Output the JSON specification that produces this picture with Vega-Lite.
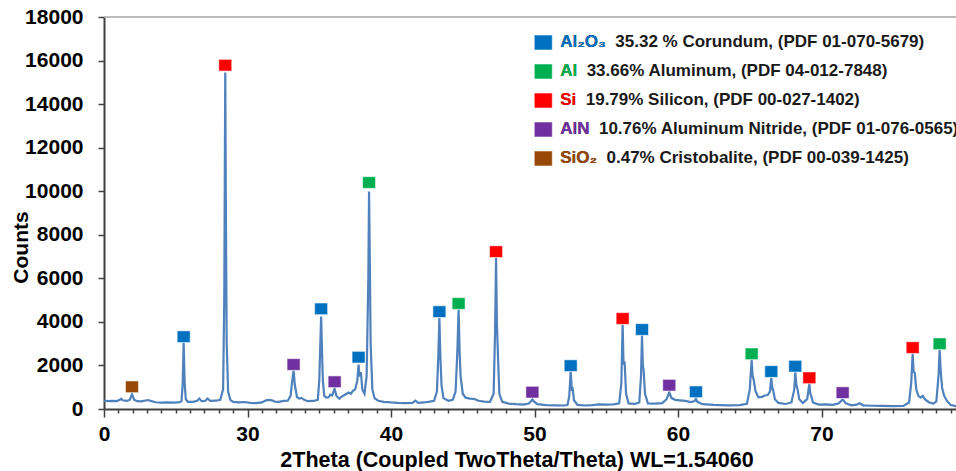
{
  "$schema": "https://vega.github.io/schema/vega-lite/v6.json",
  "width": 852,
  "height": 392,
  "autosize": {"type": "none"},
  "padding": {"left": 104, "top": 17, "right": 0, "bottom": 62},
  "background": "white",
  "config": {
    "font": "Liberation Sans",
    "view": {"stroke": null}
  },
  "datasets": {
    "xrd": [
      {"t":20.0,"c":380},{"t":20.3,"c":360},{"t":20.6,"c":375},{"t":20.9,"c":365},{"t":21.1,"c":420},{"t":21.2,"c":470},{"t":21.3,"c":400},{"t":21.6,"c":370},{"t":21.8,"c":430},{"t":21.95,"c":670},{"t":22.1,"c":430},{"t":22.3,"c":360},{"t":22.6,"c":350},{"t":22.9,"c":390},{"t":23.1,"c":410},{"t":23.3,"c":360},{"t":23.6,"c":310},{"t":24.0,"c":295},{"t":24.4,"c":300},{"t":24.8,"c":290},{"t":25.2,"c":300},{"t":25.4,"c":360},{"t":25.48,"c":1100},{"t":25.55,"c":3050},{"t":25.62,"c":1200},{"t":25.7,"c":450},{"t":25.85,"c":330},{"t":26.2,"c":330},{"t":26.5,"c":380},{"t":26.64,"c":480},{"t":26.8,"c":360},{"t":27.05,"c":370},{"t":27.22,"c":480},{"t":27.4,"c":370},{"t":27.8,"c":380},{"t":28.1,"c":420},{"t":28.3,"c":900},{"t":28.38,"c":5000},{"t":28.45,"c":15450},{"t":28.5,"c":8200},{"t":28.55,"c":3000},{"t":28.65,"c":800},{"t":28.8,"c":420},{"t":29.0,"c":330},{"t":29.4,"c":300},{"t":29.8,"c":320},{"t":30.2,"c":280},{"t":30.6,"c":270},{"t":31.0,"c":300},{"t":31.3,"c":400},{"t":31.5,"c":420},{"t":31.7,"c":400},{"t":31.9,"c":340},{"t":32.2,"c":330},{"t":32.5,"c":370},{"t":32.8,"c":380},{"t":33.0,"c":600},{"t":33.1,"c":1200},{"t":33.21,"c":1760},{"t":33.3,"c":1100},{"t":33.45,"c":550},{"t":33.6,"c":480},{"t":33.75,"c":510},{"t":33.95,"c":420},{"t":34.2,"c":360},{"t":34.6,"c":370},{"t":34.9,"c":420},{"t":35.0,"c":1300},{"t":35.13,"c":4250},{"t":35.2,"c":2500},{"t":35.25,"c":1300},{"t":35.35,"c":600},{"t":35.5,"c":520},{"t":35.65,"c":540},{"t":35.77,"c":660},{"t":35.9,"c":620},{"t":36.07,"c":930},{"t":36.2,"c":600},{"t":36.4,"c":470},{"t":36.55,"c":560},{"t":36.75,"c":640},{"t":36.9,"c":700},{"t":37.05,"c":760},{"t":37.2,"c":700},{"t":37.35,"c":830},{"t":37.5,"c":900},{"t":37.65,"c":1300},{"t":37.74,"c":2040},{"t":37.8,"c":1500},{"t":37.9,"c":1700},{"t":38.0,"c":900},{"t":38.15,"c":700},{"t":38.3,"c":1500},{"t":38.42,"c":6000},{"t":38.47,"c":9990},{"t":38.52,"c":7000},{"t":38.58,"c":3000},{"t":38.7,"c":900},{"t":38.85,"c":500},{"t":39.1,"c":380},{"t":39.5,"c":330},{"t":40.0,"c":300},{"t":40.5,"c":280},{"t":41.0,"c":270},{"t":41.5,"c":280},{"t":41.7,"c":380},{"t":41.9,"c":280},{"t":42.3,"c":300},{"t":42.7,"c":340},{"t":43.0,"c":380},{"t":43.2,"c":800},{"t":43.3,"c":2500},{"t":43.37,"c":4180},{"t":43.44,"c":2400},{"t":43.52,"c":1100},{"t":43.65,"c":500},{"t":44.0,"c":380},{"t":44.3,"c":420},{"t":44.5,"c":800},{"t":44.62,"c":2600},{"t":44.71,"c":4570},{"t":44.78,"c":2600},{"t":44.85,"c":1500},{"t":45.0,"c":700},{"t":45.2,"c":520},{"t":45.5,"c":480},{"t":45.8,"c":460},{"t":46.1,"c":380},{"t":46.5,"c":340},{"t":46.9,"c":330},{"t":47.15,"c":700},{"t":47.25,"c":3500},{"t":47.32,"c":6950},{"t":47.38,"c":3900},{"t":47.45,"c":2500},{"t":47.55,"c":700},{"t":47.75,"c":330},{"t":48.2,"c":250},{"t":48.7,"c":220},{"t":49.2,"c":200},{"t":49.6,"c":250},{"t":49.75,"c":350},{"t":49.85,"c":440},{"t":49.95,"c":350},{"t":50.2,"c":220},{"t":50.8,"c":180},{"t":51.5,"c":170},{"t":52.0,"c":160},{"t":52.3,"c":180},{"t":52.42,"c":600},{"t":52.52,"c":1720},{"t":52.6,"c":900},{"t":52.66,"c":930},{"t":52.75,"c":400},{"t":53.0,"c":190},{"t":53.5,"c":160},{"t":54.0,"c":180},{"t":54.5,"c":210},{"t":55.0,"c":200},{"t":55.5,"c":210},{"t":55.9,"c":260},{"t":56.05,"c":1200},{"t":56.14,"c":3880},{"t":56.2,"c":2100},{"t":56.28,"c":2120},{"t":56.38,"c":700},{"t":56.55,"c":260},{"t":57.0,"c":240},{"t":57.3,"c":300},{"t":57.42,"c":1500},{"t":57.49,"c":3375},{"t":57.55,"c":2000},{"t":57.6,"c":1800},{"t":57.7,"c":700},{"t":57.9,"c":260},{"t":58.4,"c":250},{"t":58.9,"c":270},{"t":59.2,"c":450},{"t":59.39,"c":770},{"t":59.55,"c":500},{"t":59.8,"c":420},{"t":60.1,"c":400},{"t":60.5,"c":370},{"t":60.9,"c":320},{"t":61.15,"c":360},{"t":61.25,"c":470},{"t":61.35,"c":330},{"t":61.7,"c":220},{"t":62.5,"c":190},{"t":63.5,"c":170},{"t":64.3,"c":180},{"t":64.8,"c":240},{"t":65.0,"c":900},{"t":65.13,"c":2260},{"t":65.2,"c":1500},{"t":65.27,"c":1350},{"t":65.4,"c":820},{"t":65.6,"c":540},{"t":65.85,"c":560},{"t":66.05,"c":620},{"t":66.25,"c":640},{"t":66.4,"c":800},{"t":66.5,"c":1430},{"t":66.58,"c":900},{"t":66.62,"c":900},{"t":66.75,"c":450},{"t":67.0,"c":280},{"t":67.5,"c":230},{"t":67.9,"c":300},{"t":68.1,"c":900},{"t":68.17,"c":1690},{"t":68.25,"c":1100},{"t":68.33,"c":900},{"t":68.45,"c":450},{"t":68.7,"c":280},{"t":69.0,"c":450},{"t":69.15,"c":1160},{"t":69.22,"c":700},{"t":69.29,"c":590},{"t":69.4,"c":300},{"t":69.8,"c":200},{"t":70.3,"c":210},{"t":70.8,"c":190},{"t":71.2,"c":260},{"t":71.47,"c":440},{"t":71.7,"c":260},{"t":72.1,"c":170},{"t":72.45,"c":200},{"t":72.65,"c":260},{"t":72.9,"c":170},{"t":73.5,"c":150},{"t":74.2,"c":140},{"t":75.0,"c":130},{"t":75.7,"c":140},{"t":76.1,"c":300},{"t":76.25,"c":1200},{"t":76.35,"c":2530},{"t":76.42,"c":1700},{"t":76.5,"c":1660},{"t":76.6,"c":900},{"t":76.75,"c":600},{"t":76.9,"c":520},{"t":77.05,"c":600},{"t":77.2,"c":450},{"t":77.5,"c":300},{"t":77.8,"c":250},{"t":78.0,"c":350},{"t":78.15,"c":1500},{"t":78.23,"c":2720},{"t":78.3,"c":1800},{"t":78.4,"c":970},{"t":78.55,"c":600},{"t":78.75,"c":360},{"t":79.0,"c":180},{"t":79.4,"c":130}
    ],
    "markers": [
      {"phase":"SiO2","t":21.95,"c":1019},
      {"phase":"Al2O3","t":25.55,"c":3320},
      {"phase":"Si","t":28.45,"c":15786},
      {"phase":"AlN","t":33.21,"c":2043},
      {"phase":"Al2O3","t":35.13,"c":4600},
      {"phase":"AlN","t":36.07,"c":1250},
      {"phase":"Al2O3","t":37.74,"c":2380},
      {"phase":"Al","t":38.47,"c":10399},
      {"phase":"Al2O3","t":43.37,"c":4470},
      {"phase":"Al","t":44.71,"c":4844},
      {"phase":"Si","t":47.32,"c":7225},
      {"phase":"AlN","t":49.85,"c":773},
      {"phase":"Al2O3","t":52.52,"c":1990},
      {"phase":"Si","t":56.14,"c":4155},
      {"phase":"Al2O3","t":57.49,"c":3650},
      {"phase":"AlN","t":59.39,"c":1093},
      {"phase":"Al2O3","t":61.25,"c":790},
      {"phase":"Al","t":65.13,"c":2534},
      {"phase":"Al2O3","t":66.5,"c":1720},
      {"phase":"Al2O3","t":68.17,"c":1966},
      {"phase":"Si","t":69.15,"c":1432},
      {"phase":"AlN","t":71.47,"c":750},
      {"phase":"Si","t":76.35,"c":2820},
      {"phase":"Al","t":78.23,"c":2994}
    ],
    "legend": [
      {"phase":"Al2O3","rank":1,"formula":"Al\u2082O\u2083","label":"Al\u2082O\u2083\u00a0\u00a035.32 % Corundum, (PDF 01-070-5679)"},
      {"phase":"Al","rank":2,"formula":"Al","label":"Al\u00a0\u00a033.66% Aluminum, (PDF 04-012-7848)"},
      {"phase":"Si","rank":3,"formula":"Si","label":"Si\u00a0\u00a019.79% Silicon, (PDF 00-027-1402)"},
      {"phase":"AlN","rank":4,"formula":"AlN","label":"AlN\u00a0\u00a010.76% Aluminum Nitride, (PDF 01-076-0565)"},
      {"phase":"SiO2","rank":5,"formula":"SiO\u2082","label":"SiO\u2082\u00a0\u00a00.47% Cristobalite, (PDF 00-039-1425)"}
    ]
  },
  "layer": [
    {
      "data": {"values": [{"t": 20}]},
      "mark": {"type": "point", "opacity": 0},
      "encoding": {
        "x": {
          "field": "t", "type": "quantitative",
          "scale": {"domain": [20, 79.37], "nice": false, "zero": false},
          "axis": {
            "orient": "bottom",
            "values": [21,22,23,24,25,26,27,28,29,31,32,33,34,35,36,37,38,39,41,42,43,44,45,46,47,48,49,51,52,53,54,55,56,57,58,59,61,62,63,64,65,66,67,68,69,71,72,73,74,75,76,77,78,79],
            "labels": false, "domain": false, "title": null, "grid": false,
            "tickSize": 4, "tickColor": "#404040", "tickWidth": 1.5
          }
        }
      }
    },
    {
      "layer": [
        {
          "data": {"name": "xrd"},
          "mark": {"type": "line", "color": "#4f81bd", "strokeWidth": 2.2, "clip": true},
          "encoding": {
            "x": {
              "field": "t", "type": "quantitative",
              "scale": {"domain": [20, 79.37], "nice": false, "zero": false},
              "axis": {
                "orient": "bottom",
                "title": "2Theta (Coupled TwoTheta/Theta) WL=1.54060",
                "values": [20,30,40,50,60,70],
                "labelExpr": "datum.value === 20 ? '0' : datum.label",
                "tickSize": 8,
                "tickColor": "#404040", "tickWidth": 1.5,
                "domainColor": "#404040", "domainWidth": 2,
                "labelFontSize": 21, "labelFontWeight": "bold", "labelColor": "#000000", "labelPadding": 6,
                "labelOverlap": false, "labelFlush": false, "labelBound": false,
                "titleFontSize": 21.5, "titleFontWeight": "bold", "titleColor": "#000000",
                "titleX": 412.5, "titleY": 57, "titleAlign": "center", "titleBaseline": "alphabetic",
                "grid": false
              }
            },
            "y": {
              "field": "c", "type": "quantitative",
              "scale": {"domain": [0, 18000], "nice": false},
              "axis": {
                "title": "Counts",
                "values": [0,2000,4000,6000,8000,10000,12000,14000,16000,18000],
                "format": "d",
                "tickSize": 6, "tickColor": "#404040", "tickWidth": 1.5,
                "domainColor": "#404040", "domainWidth": 2,
                "labelFontSize": 21, "labelFontWeight": "bold", "labelColor": "#000000", "labelPadding": 15,
                "titleFontSize": 21, "titleFontWeight": "bold", "titleColor": "#000000",
                "titleAngle": -90, "titleX": -77, "titleY": 230, "titleAlign": "center", "titleBaseline": "alphabetic",
                "grid": false
              }
            }
          }
        },
        {
          "data": {"values": [{}]},
          "mark": {"type": "rule", "color": "#a6a6a6", "strokeWidth": 1.5},
          "encoding": {"y": {"datum": 18000, "type": "quantitative"}}
        },
        {
          "data": {"name": "markers"},
          "mark": {"type": "point", "shape": "M-1,-0.9H1V0.9H-1Z", "filled": true, "size": 169, "opacity": 1, "stroke": "#ffffff", "strokeWidth": 1, "strokeOpacity": 0.55},
          "encoding": {
            "x": {"field": "t", "type": "quantitative"},
            "y": {"field": "c", "type": "quantitative"},
            "color": {
              "field": "phase", "type": "nominal",
              "scale": {"domain": ["Al2O3","Al","Si","AlN","SiO2"], "range": ["#0070c0","#00b050","#ff0000","#7030a0","#984807"]},
              "legend": null
            }
          }
        }
      ]
    },
    {
      "data": {"name": "legend"},
      "encoding": {
        "y": {"field": "rank", "type": "quantitative", "scale": {"domain": [0.1207, 13.638], "reverse": true, "nice": false, "zero": false}, "axis": null}
      },
      "layer": [
        {
          "mark": {"type": "point", "shape": "M-1,-0.83H1V0.83H-1Z", "filled": true, "size": 324, "opacity": 1, "stroke": "#ffffff", "strokeWidth": 1, "strokeOpacity": 0.5},
          "encoding": {
            "x": {"datum": 50.61, "type": "quantitative", "scale": {"domain": [20, 79.37], "nice": false, "zero": false}, "axis": null},
            "color": {"field": "phase", "type": "nominal", "legend": null}
          }
        },
        {
          "mark": {"type": "text", "align": "left", "baseline": "middle", "fontSize": 17, "fontWeight": "bold", "color": "#1a1a1a"},
          "encoding": {
            "x": {"datum": 51.79, "type": "quantitative", "scale": {"domain": [20, 79.37], "nice": false, "zero": false}, "axis": null},
            "text": {"field": "label"}
          }
        },
        {
          "mark": {"type": "text", "align": "left", "baseline": "middle", "fontSize": 17, "fontWeight": "bold"},
          "encoding": {
            "x": {"datum": 51.79, "type": "quantitative", "scale": {"domain": [20, 79.37], "nice": false, "zero": false}, "axis": null},
            "text": {"field": "formula"},
            "color": {"field": "phase", "type": "nominal", "legend": null}
          }
        }
      ]
    }
  ],
  "resolve": {"scale": {"y": "independent", "x": "independent"}}
}
